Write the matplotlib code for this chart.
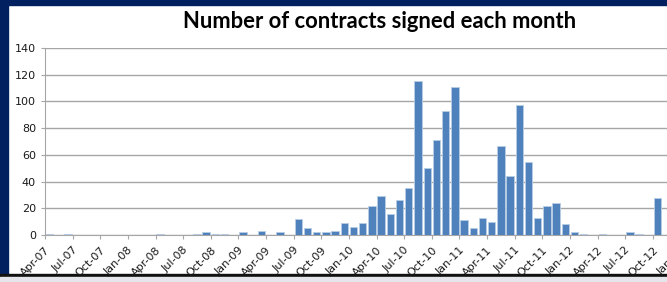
import matplotlib
matplotlib.use('Agg')
import matplotlib.pyplot as plt
from matplotlib.patches import Rectangle

# monthly counts, Apr-07 .. Oct-12
contracts = [1, 0, 1, 0, 0, 0, 0, 0, 0, 0, 0, 0,      # Apr-07 .. Mar-08
             1, 0, 0, 0, 1, 2, 1, 1, 0, 2, 0, 3,      # Apr-08 .. Mar-09
             0, 2, 0, 12, 5, 2, 2, 3, 9, 6, 9, 22,    # Apr-09 .. Mar-10
             29, 16, 26, 35, 115, 50, 71, 93, 111, 11, 5, 13,  # Apr-10 .. Mar-11
             10, 67, 44, 97, 55, 13, 22, 24, 8, 2, 1, 0,       # Apr-11 .. Mar-12
             1, 0, 0, 2, 1, 0, 28]                    # Apr-12 .. Oct-12

tick_labels = ['Apr-07', 'Jul-07', 'Oct-07', 'Jan-08', 'Apr-08', 'Jul-08',
               'Oct-08', 'Jan-09', 'Apr-09', 'Jul-09', 'Oct-09', 'Jan-10',
               'Apr-10', 'Jul-10', 'Oct-10', 'Jan-11', 'Apr-11', 'Jul-11',
               'Oct-11', 'Jan-12', 'Apr-12', 'Jul-12', 'Oct-12', 'Jan-13']

title = 'Number of contracts signed each month'

fig = plt.figure(figsize=(6.67, 2.82), dpi=100)
W, H = 667, 282

# frame of the screenshot
fig.patches.append(Rectangle((0, 1 - 5 / H), 1, 5 / H, transform=fig.transFigure,
                             color='#002060', zorder=-2))
fig.patches.append(Rectangle((0, 6 / H), 8 / W, 1 - 6 / H, transform=fig.transFigure,
                             color='#002060', zorder=-2))
fig.patches.append(Rectangle((0, 5 / H), 1, 3 / H, transform=fig.transFigure,
                             color='#111111', zorder=-2))
fig.patches.append(Rectangle((0, 0), 1, 5 / H, transform=fig.transFigure,
                             color='#E4E6EC', zorder=-2))

ax = fig.add_axes([45 / W, 47 / H, 635.5 / W, 187 / H])

x = list(range(len(contracts)))
ax.bar(x, contracts, width=0.8, color='#4F81BD', edgecolor='#B9CDE5',
       linewidth=0.6, zorder=3)

ax.set_xlim(-0.5, 68.5)
ax.set_ylim(0, 140)
ax.set_yticks(range(0, 141, 20))
ax.set_xticks([i * 3 - 0.5 for i in range(len(tick_labels))])
ax.set_xticklabels(tick_labels, rotation=45, ha='right', rotation_mode='anchor')

ax.grid(axis='y', color='#A6A6A6', linewidth=1, zorder=0)
for s in ['top', 'right']:
    ax.spines[s].set_visible(False)
for s in ['left', 'bottom']:
    ax.spines[s].set_color('#A6A6A6')
ax.tick_params(axis='both', colors='#A6A6A6', labelcolor='#1a1a1a',
               labelsize=8, length=3)
ax.tick_params(axis='x', pad=4)

fig.text(380 / W, 1 - 21 / H, title, ha='center', va='center',
         fontsize=15.8, fontweight='bold', family=['Lato', 'DejaVu Sans'])

plt.savefig('out.png', dpi=100)
